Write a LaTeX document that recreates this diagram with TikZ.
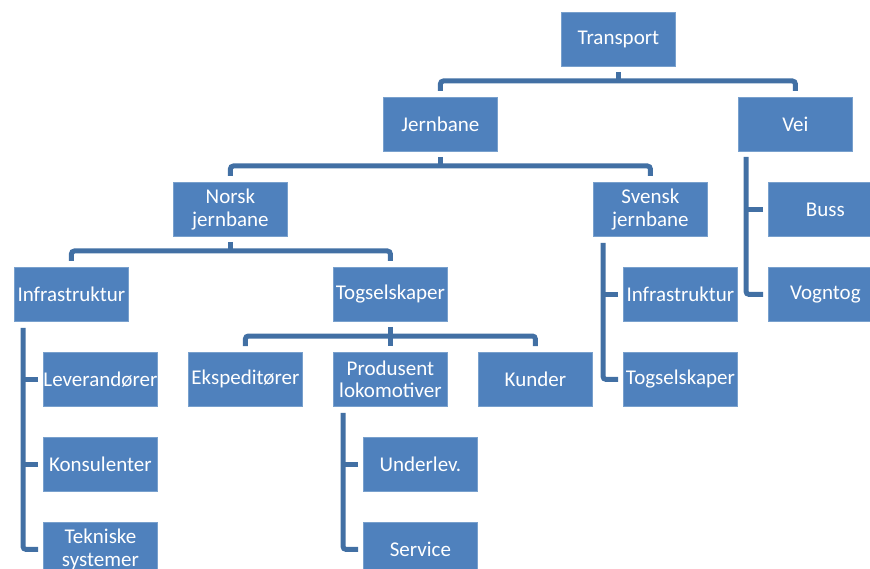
\documentclass[tikz,border=0pt]{standalone}
\usepackage{fontspec}
\setmainfont{Carlito}
\usetikzlibrary{calc}
\definecolor{boxfill}{RGB}{79,129,189}
\definecolor{boxedge}{RGB}{120,160,205}
\definecolor{linkcol}{RGB}{66,112,164}
\tikzset{
  orgbox/.style={draw=boxedge, line width=0.8pt, fill=boxfill, text=white,
    minimum width=114pt, minimum height=54pt, inner sep=0pt, align=center,
    anchor=north west, font=\fontsize{21}{22.5}\selectfont},
  conn/.style={draw=linkcol, line width=5pt, rounded corners=3pt},
}
\begin{document}
\begin{tikzpicture}[x=1pt, y=-1pt]
\clip (0,0) rectangle (870,569);
% boxes (top-left corners)
\node[orgbox] (transport) at (561,12)  {Transport};
\node[orgbox] (jern)      at (383,97)  {Jernbane};
\node[orgbox] (vei)       at (738,97)  {Vei};
\node[orgbox] (norsk)     at (173,182) {Norsk\\jernbane};
\node[orgbox] (svensk)    at (593,182) {Svensk\\jernbane};
\node[orgbox] (buss)      at (768,182) {Buss};
\node[orgbox] (vogntog)   at (768,267) {Vogntog};
\node[orgbox] (infl)      at (14,267)  {Infrastruktur};
\node[orgbox] (togl)      at (333,267) {Togselskaper};
\node[orgbox] (infr)      at (623,267) {Infrastruktur};
\node[orgbox] (togr)      at (623,352) {Togselskaper};
\node[orgbox] (lev)       at (43,352)  {Leverandører};
\node[orgbox] (eksp)      at (188,352) {Ekspeditører};
\node[orgbox] (prod)      at (333,352) {Produsent\\lokomotiver};
\node[orgbox] (kunder)    at (478,352) {Kunder};
\node[orgbox] (kons)      at (43,437)  {Konsulenter};
\node[orgbox] (tekn)      at (43,522)  {Tekniske\\systemer};
\node[orgbox] (under)     at (363,437) {Underlev.};
\node[orgbox] (service)   at (363,522) {Service};

% horizontal buses: parent stub, then drops to each child
\draw[conn] ([yshift=-5pt]transport.south) -- ++(0,10);
\draw[conn] ([yshift=6pt]jern.north) -- ++(0,-10) -| ([yshift=6pt]vei.north);

\draw[conn] ([yshift=-5pt]jern.south) -- ++(0,10);
\draw[conn] ([yshift=6pt]norsk.north) -- ++(0,-10) -| ([yshift=6pt]svensk.north);

\draw[conn] ([yshift=-5pt]norsk.south) -- ++(0,10);
\draw[conn] ([yshift=6pt]infl.north) -- ++(0,-10) -| ([yshift=6pt]togl.north);

\draw[conn] ([yshift=-5pt]togl.south) -- ([yshift=6pt]prod.north);
\draw[conn] ([yshift=6pt]eksp.north) -- ++(0,-10) -| ([yshift=6pt]kunder.north);

% hanging lists: spine on the left, short stubs into each child
\coordinate (sp-infl) at ([xshift=9pt,yshift=-6pt]infl.south west);
\draw[conn] (sp-infl) |- ([xshift=-5pt]tekn.west);
\draw[conn] ([xshift=-5pt]lev.west) -- (lev.west -| sp-infl);
\draw[conn] ([xshift=-5pt]kons.west) -- (kons.west -| sp-infl);

\coordinate (sp-vei) at ([xshift=8pt,yshift=-5pt]vei.south west);
\draw[conn] (sp-vei) |- ([xshift=-5pt]vogntog.west);
\draw[conn] ([xshift=-5pt]buss.west) -- (buss.west -| sp-vei);

\coordinate (sp-sv) at ([xshift=10pt,yshift=-6pt]svensk.south west);
\draw[conn] (sp-sv) |- ([xshift=-5pt]togr.west);
\draw[conn] ([xshift=-5pt]infr.west) -- (infr.west -| sp-sv);

\coordinate (sp-prod) at ([xshift=10pt,yshift=-6pt]prod.south west);
\draw[conn] (sp-prod) |- ([xshift=-5pt]service.west);
\draw[conn] ([xshift=-5pt]under.west) -- (under.west -| sp-prod);
\end{tikzpicture}
\end{document}
